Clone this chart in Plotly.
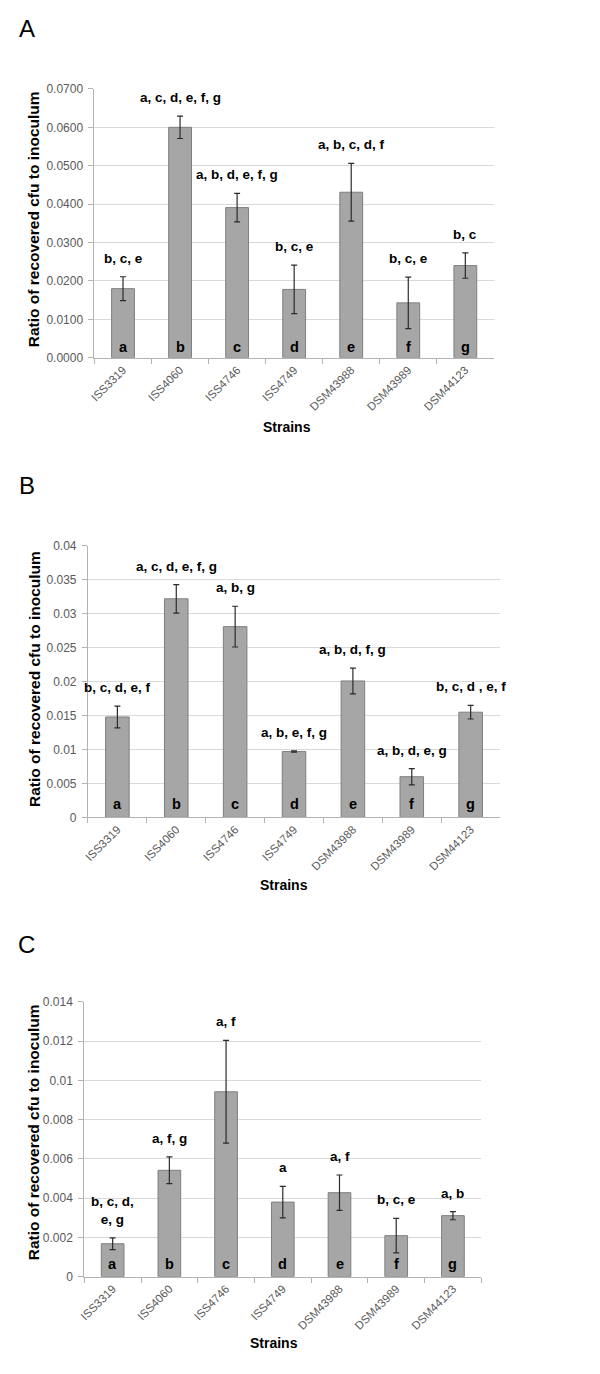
import plotly.graph_objects as go

# ---------------- data ----------------
strains = ["ISS3319", "ISS4060", "ISS4746", "ISS4749", "DSM43988", "DSM43989", "DSM44123"]
bar_letters = ["a", "b", "c", "d", "e", "f", "g"]

values_A = [0.0180, 0.0600, 0.0391, 0.0178, 0.0431, 0.0143, 0.0240]
errors_A = [0.0031, 0.0029, 0.0037, 0.0063, 0.0075, 0.0067, 0.0033]
labels_A = ["b, c, e", "a, c, d, e, f, g", "a, b, d, e, f, g", "b, c, e",
            "a, b, c, d, f", "b, c, e", "b, c"]

values_B = [0.0148, 0.0322, 0.0281, 0.0097, 0.0201, 0.0060, 0.0155]
errors_B = [0.0016, 0.0021, 0.0030, 0.0001, 0.0019, 0.0012, 0.0010]
labels_B = ["b, c, d, e, f", "a, c, d, e, f, g", "a, b, g", "a, b, e, f, g",
            "a, b, d, f, g", "a, b, d, e, g", "b, c, d , e, f"]

values_C = [0.00168, 0.00542, 0.00942, 0.00380, 0.00428, 0.00209, 0.00311]
errors_C = [0.00030, 0.00068, 0.00262, 0.00080, 0.00090, 0.00088, 0.00021]
labels_C = ["b, c, d,<br>e, g", "a, f, g", "a, f", "a", "a, f", "b, c, e", "a, b"]

panel_names = ["A", "B", "C"]
y_title = "Ratio of recovered cfu to inoculum"
x_title = "Strains"

# ---------------- layout helpers ----------------
W, H = 600, 1374
OFF = 8  # default page body margin in the browser


def xp(px):
    return (px - OFF) / W


def yp(py):
    return 1 - (py - OFF) / H


FONT = "Liberation Sans, Arial, sans-serif"
BAR_FILL = "#a6a6a6"
BAR_LINE = "#7f7f7f"
ERR_COLOR = "#2b2b2b"
GRID = "#d9d9d9"
AXIS = "#b3b3b3"
TICKFONT = dict(family=FONT, size=12, color="#595959")

# plot-area boxes in page pixels: left, right, top, bottom
panels = [
    dict(name="A", vals=values_A, errs=errors_A, labs=labels_A,
         box=(89.3, 492.7, 82.7, 354.3), yrange=[0, 0.07], dtick=0.01, fmt=".4f",
         letter_pos=(21, 21.5), ytitle_y=214.5, xtitle=(284, 424), inbar_shift=1),
    dict(name="B", vals=values_B, errs=errors_B, labs=labels_B,
         box=(82.7, 499.0, 544.3, 818.7), yrange=[0, 0.04], dtick=0.005, fmt="",
         letter_pos=(21, 483), ytitle_y=679, xtitle=(281, 887), inbar_shift=3),
    dict(name="C", vals=values_C, errs=errors_C, labs=labels_C,
         box=(79.0, 480.0, 1005.0, 1282.7), yrange=[0, 0.014], dtick=0.002, fmt="",
         letter_pos=(21, 947), ytitle_y=1137, xtitle=(271, 1350), inbar_shift=3),
]

fig = go.Figure()
annotations = []
layout_axes = {}

for i, p in enumerate(panels):
    n = "" if i == 0 else str(i + 1)
    xa, ya = "x" + n, "y" + n
    left, right, top, bottom = p["box"]

    fig.add_trace(go.Bar(
        x=strains, y=p["vals"], xaxis=xa, yaxis=ya,
        width=0.4,
        marker=dict(color=BAR_FILL, line=dict(color=BAR_LINE, width=1)),
        error_y=dict(type="data", array=p["errs"], visible=True,
                     color=ERR_COLOR, thickness=1.2, width=3),
        showlegend=False, hoverinfo="skip",
    ))

    layout_axes["xaxis" + n] = dict(
        domain=[xp(left), xp(right)], anchor=ya,
        type="category", categoryorder="array", categoryarray=strains,
        range=[-0.5, len(strains) - 0.5],
        showline=True, linecolor=AXIS, linewidth=1,
        ticks="outside", tickson="boundaries", ticklen=5, tickcolor=AXIS,
        tickangle=-45, tickfont=dict(family=FONT, size=11.5, color="#595959"),
        showgrid=False, zeroline=False,
    )
    yax = dict(
        domain=[yp(bottom), yp(top)], anchor=xa,
        range=p["yrange"], dtick=p["dtick"], tick0=0,
        showline=True, linecolor=AXIS, linewidth=1,
        ticks="outside", ticklen=5, tickcolor=AXIS,
        tickfont=TICKFONT, ticklabelstandoff=3,
        showgrid=True, gridcolor=GRID, gridwidth=1, zeroline=False,
    )
    if p["fmt"]:
        yax["tickformat"] = p["fmt"]
    layout_axes["yaxis" + n] = yax

    # significance labels above the error bars
    for s, v, e, lab in zip(strains, p["vals"], p["errs"], p["labs"]):
        annotations.append(dict(
            x=s, y=v + e, xref=xa, yref=ya, text="<b>" + lab + "</b>",
            showarrow=False, yanchor="bottom", yshift=9,
            font=dict(family=FONT, size=13.5, color="black"),
        ))
    # letters inside bars
    for s, let in zip(strains, bar_letters):
        annotations.append(dict(
            x=s, y=0, xref=xa, yref=ya, text="<b>" + let + "</b>",
            showarrow=False, yanchor="bottom", yshift=p["inbar_shift"],
            font=dict(family=FONT, size=14.5, color="black"),
        ))
    # panel letter
    lx, ly = p["letter_pos"]
    annotations.append(dict(
        x=xp(lx), y=yp(ly), xref="paper", yref="paper", text=p["name"],
        showarrow=False, xanchor="center", yanchor="middle",
        font=dict(family=FONT, size=24, color="black"),
    ))
    # y-axis title
    annotations.append(dict(
        x=xp(28), y=yp(p["ytitle_y"]), xref="paper", yref="paper",
        text="<b>" + y_title + "</b>", textangle=-90,
        showarrow=False, xanchor="center", yanchor="middle",
        font=dict(family=FONT, size=15.5, color="black"),
    ))
    # x-axis title
    tx, ty = p["xtitle"]
    annotations.append(dict(
        x=xp(tx), y=yp(ty), xref="paper", yref="paper",
        text="<b>" + x_title + "</b>",
        showarrow=False, xanchor="center", yanchor="middle",
        font=dict(family=FONT, size=14, color="black"),
    ))

fig.update_layout(
    width=W, height=H,
    margin=dict(l=0, r=0, t=0, b=0),
    paper_bgcolor="white", plot_bgcolor="white",
    annotations=annotations,
    bargap=0.6,
    **layout_axes,
)

fig.write_html("out.html")
